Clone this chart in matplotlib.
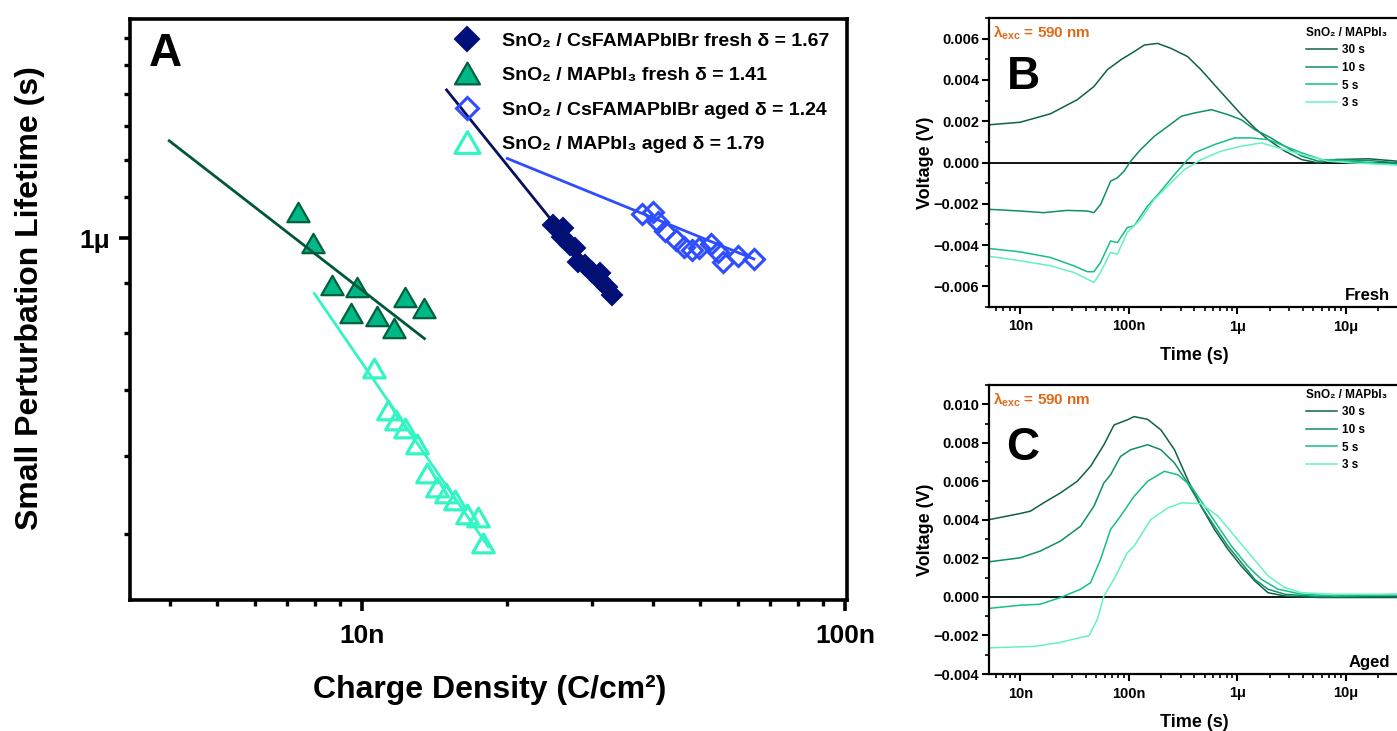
import numpy as np
import matplotlib
matplotlib.use('Agg')
import matplotlib.pyplot as plt
from matplotlib.path import Path
from matplotlib.lines import Line2D
from matplotlib.ticker import FixedLocator, FuncFormatter, MultipleLocator, LogLocator, NullFormatter

plt.rcParams['font.family'] = ['Liberation Sans', 'DejaVu Sans']
plt.rcParams['font.weight'] = 'bold'
plt.rcParams['mathtext.fontset'] = 'custom'
plt.rcParams['mathtext.rm'] = 'Liberation Sans:bold'
plt.rcParams['mathtext.bf'] = 'Liberation Sans:bold'
plt.rcParams['mathtext.it'] = 'Liberation Sans:bold'

W, H = 1397, 731

# ---------------- Panel A data (charge density in nC/cm2, lifetime in us) -------------
fresh_cs_x = [24.9, 26.1, 25.9, 26.96, 27.6, 28.04, 28.95, 29.9, 31.1, 31.1, 32.1, 32.9]
fresh_cs_y = [1.031, 1.023, 1.003, 0.984, 0.976, 0.946, 0.939, 0.924, 0.921, 0.906, 0.892, 0.875]
fresh_ma_x = [7.36, 7.93, 8.66, 9.78, 12.28, 13.44, 9.48, 10.72, 11.65]
fresh_ma_y = [1.064, 0.988, 0.896, 0.891, 0.870, 0.848, 0.838, 0.832, 0.809]
aged_cs_x = [38.0, 40.05, 41.0, 42.4, 44.7, 46.4, 48.2, 49.9, 52.8, 54.6, 55.9, 60.0, 64.8]
aged_cs_y = [1.058, 1.063, 1.038, 1.016, 0.995, 0.979, 0.972, 0.977, 0.986, 0.968, 0.945, 0.959, 0.952]
aged_ma_x = [10.59, 11.34, 11.76, 12.28, 12.98, 13.61, 14.28, 14.92, 15.58, 16.47, 17.41, 17.78]
aged_ma_y = [0.737, 0.668, 0.653, 0.641, 0.617, 0.576, 0.558, 0.550, 0.541, 0.524, 0.520, 0.489]

fit_fresh_cs_x = [14.97, 32.9]
fit_fresh_cs_y = [1.415, 0.875]
fit_fresh_ma_x = [3.99, 13.47]
fit_fresh_ma_y = [1.256, 0.790]
fit_aged_cs_x = [20.0, 64.8]
fit_aged_cs_y = [1.205, 0.952]
fit_aged_ma_x = [7.97, 18.26]
fit_aged_ma_y = [0.878, 0.485]

labels_A = ['SnO₂ / CsFAMAPbIBr fresh δ = 1.67',
            'SnO₂ / MAPbI₃ fresh δ = 1.41',
            'SnO₂ / CsFAMAPbIBr aged δ = 1.24',
            'SnO₂ / MAPbI₃ aged δ = 1.79']

# ---------------- Panel B data (time in ns, voltage in mV) -------------
B30_t = [5.27, 10, 19, 33.5, 47.8, 63.4, 84.3, 112, 139, 184, 245, 349, 464, 617, 820, 1090, 1450, 1920, 2740, 3920, 5600, 8000, 16200, 30700]
B30_v = [1.83, 1.95, 2.36, 3.04, 3.68, 4.49, 4.97, 5.37, 5.69, 5.77, 5.53, 5.13, 4.49, 3.76, 3.04, 2.32, 1.67, 1.11, 0.55, 0.14, -0.02, 0.14, 0.18, 0.06]
B10_t = [5.27, 10, 16.4, 27, 41.5, 47.8, 55.1, 68.2, 78.6, 90.6, 104, 129, 172, 229, 305, 405, 577, 820, 1090, 1450, 1920, 2740, 3920, 5600, 8000, 16000, 30700]
B10_v = [-2.27, -2.35, -2.43, -2.32, -2.35, -2.43, -2.03, -0.90, -0.74, -0.42, 0.06, 0.63, 1.27, 1.75, 2.24, 2.40, 2.56, 2.32, 2.07, 1.59, 1.27, 0.79, 0.31, 0.06, 0.14, 0.10, -0.02]
B5_t = [5.27, 10, 19, 31, 41.5, 47.8, 55, 68, 78.6, 97, 112, 149, 198, 264, 349, 405, 617, 945, 1350, 1920, 2740, 3920, 6000, 11400, 30700]
B5_v = [-4.17, -4.33, -4.60, -5.00, -5.29, -5.29, -4.84, -3.80, -3.88, -3.15, -3.07, -2.11, -1.38, -0.58, 0.14, 0.47, 0.87, 1.19, 1.19, 1.11, 0.79, 0.47, 0.14, 0.06, -0.10]
B3_t = [5.27, 10, 19, 31, 41.5, 47.8, 55, 68, 78.6, 97, 129, 172, 229, 326, 464, 710, 1090, 1670, 2380, 3920, 6900, 11400, 30700]
B3_v = [-4.55, -4.76, -5.00, -5.32, -5.65, -5.81, -5.32, -4.36, -4.44, -3.39, -2.75, -1.79, -1.14, -0.34, 0.14, 0.55, 0.79, 0.95, 0.71, 0.39, 0.06, -0.02, -0.13]

# ---------------- Panel C data -------------
C30_t = [5.27, 10, 12.4, 16.4, 23.5, 33.5, 44.5, 59.1, 73.3, 97.1, 112, 149, 198, 264, 349, 464, 617, 820, 1090, 1450, 1920, 2740, 5600, 30000]
C30_v = [4.02, 4.33, 4.45, 4.88, 5.40, 6.0, 6.78, 7.90, 8.93, 9.19, 9.36, 9.22, 8.67, 7.64, 6.09, 4.71, 3.50, 2.47, 1.60, 0.83, 0.22, 0.05, -0.03, -0.03]
C10_t = [5.27, 10, 15.3, 23.5, 36, 47.8, 59, 68, 84, 104, 149, 198, 264, 349, 464, 617, 820, 1090, 1450, 1920, 2740, 5600, 30000]
C10_v = [1.83, 2.03, 2.38, 2.90, 3.67, 4.71, 5.91, 6.34, 7.29, 7.64, 7.90, 7.64, 6.95, 5.91, 4.71, 3.67, 2.64, 1.78, 0.91, 0.40, 0.14, 0.02, 0.05]
C5_t = [5.27, 10, 15.3, 23.5, 36, 44.5, 55, 68, 84, 112, 149, 213, 284, 376, 500, 664, 883, 1250, 1670, 2380, 3920, 8000, 30000]
C5_v = [-0.59, -0.43, -0.38, -0.03, 0.40, 0.74, 1.95, 3.50, 4.19, 5.22, 6.0, 6.52, 6.34, 5.74, 4.71, 3.67, 2.64, 1.60, 0.91, 0.40, 0.14, 0.05, 0.14]
C3_t = [5.27, 13.3, 23.5, 36, 43, 51.4, 59, 73, 97, 112, 160, 229, 305, 464, 664, 945, 1350, 1920, 2740, 3920, 8000, 30000]
C3_v = [-2.64, -2.57, -2.36, -2.10, -2.02, -1.16, 0.05, 0.91, 2.29, 2.64, 4.02, 4.62, 4.88, 4.84, 4.19, 3.16, 2.12, 1.09, 0.48, 0.22, 0.14, 0.14]

series_labels = ['30 s', '10 s', '5 s', '3 s']
time_tick_vals = [1e-8, 1e-7, 1e-6, 1e-5]
time_tick_labels = ['10n', '100n', '1μ', '10μ']

# ---------------- colours -------------
navy = '#00107A'
green_fill = '#00B886'
green_edge = '#00603F'
green_line = '#00573A'
blue = '#2E4DFF'
cyan = '#33F5C4'
trace_colors = ['#0E6248', '#0F9066', '#17BE88', '#66F0C8']
orange = '#E06A1B'

nano = 1e-9
micro = 1e-6

fig = plt.figure(figsize=(W / 100, H / 100), dpi=100)


def px_axes(l, t, r, b):
    return fig.add_axes([l / W, 1 - b / H, (r - l) / W, (b - t) / H])


# ======================= Panel A =======================
axA = px_axes(130, 19, 847, 600)
axA.set_xscale('log')
axA.set_yscale('log')

wide_tri = Path([(0, 1), (-1.15, -1), (1.15, -1), (0, 1)], closed=True)

axA.plot(np.array(fresh_cs_x) * nano, np.array(fresh_cs_y) * micro, ls='none', marker='D',
         ms=10.5, mfc=navy, mec=navy, mew=1.5, zorder=2)
axA.plot(np.array(fresh_ma_x) * nano, np.array(fresh_ma_y) * micro, ls='none', marker=wide_tri,
         ms=16, mfc=green_fill, mec=green_edge, mew=1.6, zorder=2)
axA.plot(np.array(aged_cs_x) * nano, np.array(aged_cs_y) * micro, ls='none', marker='D',
         ms=10, mfc='none', mec=blue, mew=2.2, zorder=2)
axA.plot(np.array(aged_ma_x) * nano, np.array(aged_ma_y) * micro, ls='none', marker=wide_tri,
         ms=15.5, mfc='none', mec=cyan, mew=2.3, zorder=2)

axA.plot(np.array(fit_fresh_cs_x) * nano, np.array(fit_fresh_cs_y) * micro, color='#0A1060', lw=2.0, zorder=3)
axA.plot(np.array(fit_fresh_ma_x) * nano, np.array(fit_fresh_ma_y) * micro, color=green_line, lw=2.0, zorder=3)
axA.plot(np.array(fit_aged_cs_x) * nano, np.array(fit_aged_cs_y) * micro, color=blue, lw=2.0, zorder=3)
axA.plot(np.array(fit_aged_ma_x) * nano, np.array(fit_aged_ma_y) * micro, color=cyan, lw=2.0, zorder=3)

axA.set_xlim(3.31e-9, 1.01e-7)
axA.set_ylim(0.428e-6, 1.671e-6)

axA.xaxis.set_major_locator(FixedLocator([1e-8, 1e-7]))
axA.xaxis.set_major_formatter(FuncFormatter(lambda v, p: {1e-8: '10n', 1e-7: '100n'}.get(v, '')))
axA.xaxis.set_minor_locator(LogLocator(base=10, subs=np.arange(2, 10)))
axA.xaxis.set_minor_formatter(NullFormatter())
axA.yaxis.set_major_locator(FixedLocator([1e-6]))
axA.yaxis.set_major_formatter(FuncFormatter(lambda v, p: '1μ'))
axA.yaxis.set_minor_locator(FixedLocator(np.arange(0.4, 1.75, 0.1) * micro))
axA.yaxis.set_minor_formatter(NullFormatter())

for s in axA.spines.values():
    s.set_linewidth(2.6)
axA.tick_params(axis='both', which='major', direction='out', length=8, width=2.6, labelsize=19, pad=9)
axA.tick_params(axis='both', which='minor', direction='out', length=4.5, width=2.4)
axA.tick_params(axis='y', which='major', pad=6)

fig.text(490 / W, 1 - 690 / H, 'Charge Density (C/cm²)', ha='center', va='center', fontsize=23, fontweight='bold')
fig.text(30 / W, 1 - 298 / H, 'Small Perturbation Lifetime (s)', ha='center', va='center', rotation=90,
         fontsize=23, fontweight='bold')
fig.text(165 / W, 1 - 54 / H, 'A', ha='center', va='center', fontsize=33, fontweight='bold')

handles_A = [
    Line2D([], [], ls='none', marker='D', ms=12, mfc=navy, mec=navy, mew=1.5),
    Line2D([], [], ls='none', marker=wide_tri, ms=18, mfc=green_fill, mec=green_edge, mew=1.6),
    Line2D([], [], ls='none', marker='D', ms=11.5, mfc='none', mec=blue, mew=2.2),
    Line2D([], [], ls='none', marker=wide_tri, ms=18, mfc='none', mec=cyan, mew=2.3),
]
legA = fig.legend(handles_A, labels_A, loc='upper left', bbox_to_anchor=(455 / W, 1 - 32 / H),
                  bbox_transform=fig.transFigure, frameon=False, fontsize=14, handlelength=1.2,
                  handletextpad=1.2, borderpad=0, labelspacing=0.87, borderaxespad=0)

# ======================= Panels B and C =======================


def trace_panel(ax, data, ylim, major_ticks, letter, letter_y, tag, tag_y, leg_top):
    for (t, v), c, lab in zip(data, trace_colors, series_labels):
        ax.plot(np.array(t) * nano, np.array(v) * 1e-3, color=c, lw=1.1, label=lab)
    ax.axhline(0, color='black', lw=1.3, zorder=1)
    ax.set_xscale('log')
    ax.set_xlim(5.16e-9, 3.09e-5)
    ax.set_ylim(*ylim)
    ax.xaxis.set_major_locator(FixedLocator(time_tick_vals))
    ax.xaxis.set_major_formatter(FuncFormatter(lambda v, p: dict(zip(time_tick_vals, time_tick_labels)).get(v, '')))
    ax.xaxis.set_minor_locator(LogLocator(base=10, subs=np.arange(2, 10)))
    ax.xaxis.set_minor_formatter(NullFormatter())
    ax.yaxis.set_major_locator(FixedLocator(major_ticks))
    ax.yaxis.set_major_formatter(FuncFormatter(lambda v, p: ('%.3f' % v).replace('-', '−') if abs(v) > 1e-9 else '0.000'))
    ax.yaxis.set_minor_locator(MultipleLocator(0.001))
    ax.spines['right'].set_visible(False)
    for s in ['left', 'top', 'bottom']:
        ax.spines[s].set_linewidth(1.6)
    ax.tick_params(axis='both', which='major', direction='out', length=5, width=1.5, labelsize=10.5, pad=2)
    ax.tick_params(axis='both', which='minor', direction='out', length=2.8, width=1.2)
    ax.tick_params(axis='x', which='major', pad=4)
    ax.set_xlabel('Time (s)', fontsize=13, fontweight='bold', labelpad=10)
    ax.set_ylabel('Voltage (V)', fontsize=13, fontweight='bold', labelpad=0)
    ax.text(1023 / W, 1 - letter_y / H, letter, transform=fig.transFigure, ha='center', va='center',
            fontsize=33, fontweight='bold')
    ax.text(1390 / W, 1 - tag_y / H, tag, transform=fig.transFigure, ha='right', va='center',
            fontsize=12, fontweight='bold')
    ax.text(0.01, 0.95, r'$\lambda_{\mathrm{exc}}$ = 590 nm', transform=ax.transAxes, ha='left', va='center',
            fontsize=11, fontweight='bold', color=orange)
    leg = ax.legend(loc='upper right', bbox_to_anchor=(1393 / W, 1 - leg_top / H),
                    bbox_transform=fig.transFigure, frameon=False, fontsize=8.5,
                    title='SnO₂ / MAPbI₃', title_fontproperties={'size': 8.5, 'weight': 'bold'},
                    handlelength=2.6, handletextpad=0.45, labelspacing=0.47, borderpad=0, alignment='left')
    return leg


axB = px_axes(989, 18, W + 2, 307)
trace_panel(axB, [(B30_t, B30_v), (B10_t, B10_v), (B5_t, B5_v), (B3_t, B3_v)], (-0.007, 0.007),
            [-0.006, -0.004, -0.002, 0.0, 0.002, 0.004, 0.006], 'B', 77, 'Fresh', 295, 21)

axC = px_axes(989, 385, W + 2, 674)
trace_panel(axC, [(C30_t, C30_v), (C10_t, C10_v), (C5_t, C5_v), (C3_t, C3_v)], (-0.004, 0.011),
            [-0.004, -0.002, 0.0, 0.002, 0.004, 0.006, 0.008, 0.010], 'C', 448, 'Aged', 663, 383)

fig.savefig('out.png', dpi=100)
